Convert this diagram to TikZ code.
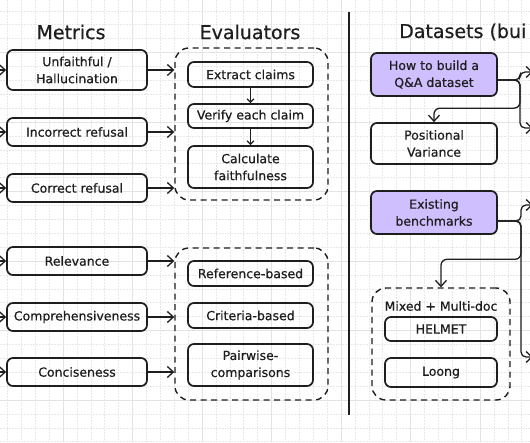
\documentclass[tikz,border=0pt]{standalone}
\usepackage{fontspec}
\setmainfont{DejaVu Sans}[FakeBold=0.6]
\usepackage{xcolor}
\usepackage{tikz}
\usetikzlibrary{arrows.meta, positioning, calc}
\definecolor{ink}{HTML}{1E1E1E}
\definecolor{lavender}{HTML}{D0BFFF}

\begin{document}
\begin{tikzpicture}[x=1pt, y=-1pt,
    box/.style={rectangle, rounded corners=6pt, draw=ink, line width=1.7pt, text=ink,
      minimum width=140pt, minimum height=28pt, inner sep=2pt, align=center,
      font=\fontsize{12.5}{17}\selectfont},
    evalbox/.style={box, minimum width=125pt},
    databox/.style={box, minimum width=126pt},
    group/.style={rectangle, rounded corners=14pt, draw=ink, line width=1.4pt,
      dash pattern=on 6pt off 4.5pt},
    title/.style={text=ink, inner sep=0pt, font=\fontsize{19}{22}\selectfont},
    arrow/.style={draw=ink, line width=1.3pt, -{Straight Barb[length=6pt, width=11pt]}},
    smallarrow/.style={draw=ink, line width=1.2pt, -{Straight Barb[length=3.5pt, width=7pt]}},
    minor/.style={black!9, line width=0.5pt, dash pattern=on 1.5pt off 1.5pt},
    major/.style={black!11, line width=0.6pt}
]
\useasboundingbox (0,0) rectangle (530,442);
\clip (0,0) rectangle (530,442);
\fill[white] (0,0) rectangle (530,442);

% grid
\foreach \i in {0,...,37} \draw[minor] (7.4+13.9*\i,0) -- ++(0,442);
\foreach \j in {0,...,31} \draw[minor] (0,10.8+13.9*\j) -- ++(530,0);
\foreach \i in {0,...,7} \draw[major] (-6.5+69.5*\i,0) -- ++(0,442);
\foreach \j in {0,...,6} \draw[major] (0,400-69.5*\j) -- ++(530,0);

% titles and divider
\node[title] (metricsT) at (71,32) {Metrics};
\node[title] (evalT)    at (250,32) {Evaluators};
\node[title, anchor=west] (dataT) at (399,32) {Datasets (bui};
\draw[ink, line width=2.2pt] (349,12) -- (349,415);

% metrics
\node[box, minimum height=40pt] (unf) at (77,70)  {Unfaithful /\\Hallucination};
\node[box]                      (incref) at (77,132) {Incorrect refusal};
\node[box]                      (corref) at (77,188) {Correct refusal};
\node[box]                      (rel)    at (77,261) {Relevance};
\node[box]                      (comp)   at (77,317) {Comprehensiveness};
\node[box]                      (conc)   at (77,372) {Conciseness};

% evaluators
\node[group, minimum width=153pt, minimum height=152pt] (evalA) at (251.5,124) {};
\node[group, minimum width=153pt, minimum height=152pt] (evalB) at (251.5,324) {};
\node[evalbox, minimum height=25pt] (ext)  at (250.5,74.5) {Extract claims};
\node[evalbox, minimum height=24pt] (ver)  at (250.5,116)  {Verify each claim};
\node[evalbox, minimum height=42pt] (calc) at (250.5,167)  {Calculate\\faithfulness};
\node[evalbox, minimum height=25pt] (refb) at (250.5,273.5) {Reference-based};
\node[evalbox, minimum height=25pt] (crit) at (250.5,315.5) {Criteria-based};
\node[evalbox, minimum height=42pt] (pair) at (250.5,365)  {Pairwise-\\comparisons};

% datasets
\node[databox, fill=lavender, minimum height=43pt] (hq) at (434,74.5)  {How to build a\\Q\&A dataset};
\node[databox, minimum height=41pt]                (pv) at (434,143.5) {Positional\\Variance};
\node[databox, fill=lavender, minimum height=43pt] (eb) at (434,212.5) {Existing\\benchmarks};
\node[group, minimum width=138pt, minimum height=112pt] (mm) at (441,344) {};
\node[text=ink, font=\fontsize{12.5}{15}\selectfont] (mmlabel) at (441,306) {Mixed + Multi-doc};
\node[box, minimum width=112pt, minimum height=24pt] (helmet) at (441,329)   {HELMET};
\node[box, minimum width=112pt, minimum height=29pt] (loong)  at (441,372.5) {Loong};

% connectors
\coordinate (edgeL) at (-4,0);
\foreach \n in {unf, incref, corref, rel, comp, conc}
  \draw[arrow] (edgeL |- \n.west) -- (\n.west);
\foreach \n/\g in {unf/evalA, incref/evalA, corref/evalA, rel/evalB, comp/evalB, conc/evalB}
  \draw[arrow] (\n.east) -- (\n.east -| \g.west);
\draw[smallarrow] (ext) -- (ver);
\draw[smallarrow] (ver) -- (calc);

\coordinate (hqsplit) at (520,80);
\coordinate (ebsplit) at (521,221);
\coordinate (outA) at (533,72);
\coordinate (outB) at (533,128);
\coordinate (outC) at (533,205);
\coordinate (outD) at (533,357);
\draw[arrow, rounded corners=5pt] ([yshift=-5.5pt]hq.east) -- (hqsplit) |- (outA);
\draw[arrow, rounded corners=5pt] ([yshift=-5.5pt]hq.east) -- (hqsplit) |- (outB);
\draw[arrow, rounded corners=6pt] ([yshift=-5.5pt]hq.east) -- (hqsplit) |- ([yshift=14pt]pv.north) -- (pv.north);
\draw[arrow, rounded corners=5pt] ([yshift=-8.5pt]eb.east) -- (ebsplit) |- (outC);
\draw[arrow, rounded corners=6pt] ([yshift=-8.5pt]eb.east) -- (ebsplit) |- ([yshift=28pt]mm.north) -- (mm.north);
\draw[arrow, rounded corners=5pt] ([yshift=-8.5pt]eb.east) -- (ebsplit) |- (outD);
\end{tikzpicture}
\end{document}
